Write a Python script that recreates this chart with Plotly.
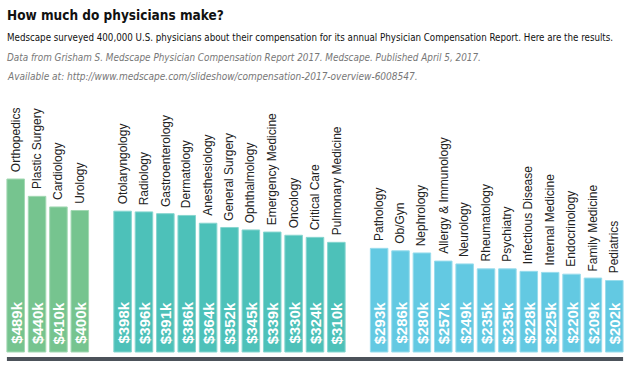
import plotly.graph_objects as go

green_names = ["Orthopedics", "Plastic Surgery", "Cardiology", "Urology"]
green_vals = [489, 440, 410, 400]
teal_names = ["Otolaryngology", "Radiology", "Gastroenterology", "Dermatology", "Anesthesiology",
              "General Surgery", "Ophthalmology", "Emergency Medicine", "Oncology", "Critical Care",
              "Pulmonary Medicine"]
teal_vals = [398, 396, 391, 386, 364, 352, 345, 339, 330, 324, 310]
blue_names = ["Pathology", "Ob/Gyn", "Nephrology", "Allergy & Immunology", "Neurology", "Rheumatology",
              "Psychiatry", "Infectious Disease", "Internal Medicine", "Endocrinology", "Family Medicine",
              "Pediatrics"]
blue_vals = [293, 286, 280, 257, 249, 235, 235, 228, 225, 220, 209, 202]

groups = [
    (green_names, green_vals, "#76C48F", "#A3D8B3"),
    (teal_names, teal_vals, "#4DC1B9", "#86D5CF"),
    (blue_names, blue_vals, "#63C9E2", "#98DCEC"),
]

W, H = 630, 370
ML, MR, MT, MB = 5, 5, 100, 5
plot_h = H - MT - MB
zero_px = 352
scale = 173 / 489.0  # px per $k
ymin = -(H - MB - zero_px) / scale
ymax = (zero_px - MT) / scale

def py(pixel):
    return (H - MB - pixel) / plot_h

fig = go.Figure()
annotations = []
slot = 0
all_slots = []
for names, vals, col, edge in groups:
    xs = list(range(slot, slot + len(vals)))
    all_slots += xs
    fig.add_trace(go.Bar(
        x=xs, y=vals, marker=dict(color=col, line=dict(color=edge, width=1)),
        hoverinfo="skip", showlegend=False,
    ))
    for x, n, v in zip(xs, names, vals):
        annotations.append(dict(
            x=x, y=v, xref="x", yref="y", text=n, textangle=-90,
            showarrow=False, xanchor="center", yanchor="bottom", yshift=5,
            font=dict(family="Liberation Sans, Arial, sans-serif", size=12, color="#222222"),
        ))
        annotations.append(dict(
            x=x, y=0, xref="x", yref="y", text="<b>$%dk</b>" % v, textangle=-90,
            showarrow=False, xanchor="center", yanchor="bottom", yshift=6,
            font=dict(family="Liberation Sans, Arial, sans-serif", size=15, color="white"),
        ))
    slot += len(vals) + 1

narrow = "DejaVu Sans Condensed, Liberation Sans Narrow, sans-serif"
header = [
    ("<b>How much do physicians make?</b>", 15, 13.5, "#111111", False),
    ("Medscape surveyed 400,000 U.S. physicians about their compensation for its annual Physician Compensation Report. Here are the results.", 37, 9.7, "#111111", False),
    ("Data from Grisham S. Medscape Physician Compensation Report 2017. Medscape. Published April 5, 2017.", 57, 9.85, "#777777", True),
    ("Available at: http://www.medscape.com/slideshow/compensation-2017-overview-6008547.", 76, 10.0, "#777777", True),
]
for text, ypx, size, color, ital in header:
    annotations.append(dict(
        x=0, y=py(ypx), xref="paper", yref="paper", text=("<i>%s</i>" % text) if ital else text,
        showarrow=False, xanchor="left", yanchor="middle", xshift=0,
        font=dict(family=narrow, size=size, color=color),
    ))

bar_half = 0.41
fig.add_shape(type="rect", xref="x", yref="y",
              x0=min(all_slots) - bar_half, x1=max(all_slots) + bar_half,
              y0=-9 / scale, y1=-5 / scale,
              fillcolor="#4C525A", line=dict(width=0))

fig.update_layout(
    width=W, height=H, margin=dict(l=ML, r=MR, t=MT, b=MB),
    paper_bgcolor="white", plot_bgcolor="white",
    bargap=0.18,
    xaxis=dict(range=[-0.5, 28.5], visible=False, fixedrange=True),
    yaxis=dict(range=[ymin, ymax], visible=False, fixedrange=True),
    annotations=annotations,
)
fig.write_html("out.html", config={"displayModeBar": False},
               post_script="document.body.style.margin='0';document.body.style.overflow='hidden';")
